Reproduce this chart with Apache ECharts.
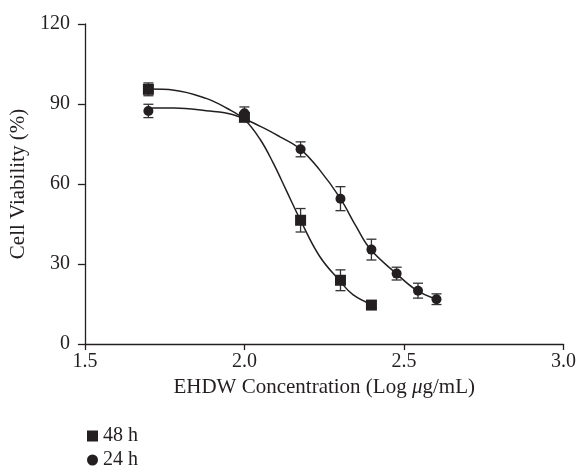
<!DOCTYPE html>
<html>
<head>
<meta charset="utf-8">
<script src="https://cdn.jsdelivr.net/npm/echarts@6/dist/echarts.min.js"></script>
<style>
  html, body { margin: 0; padding: 0; background: #fff; }
  #chart { width: 579px; height: 470px; }
</style>
</head>
<body>
<div id="chart"></div>
<script>
// 浓度 (log µg/mL)
const logConc48 = [1.699, 2.0, 2.176, 2.301, 2.398]
const logConc24 = [1.699, 2.0, 2.176, 2.301, 2.398, 2.477, 2.544, 2.602]

// 细胞活力均值 和 误差
const viability48 = [95.5, 85.0, 46.4, 23.9, 14.6]
const error48 = [2.4, 1.5, 4.4, 3.9, 1.0]
const viability24 = [87.4, 86.5, 73.0, 54.5, 35.4, 26.4, 20.0, 16.8]
const error24 = [2.5, 2.4, 2.8, 4.5, 3.9, 2.4, 2.8, 2.0]

// 拟合曲线
const fitX48 = [1.70, 1.78, 1.88, 1.945, 2.0, 2.05, 2.09, 2.13, 2.175, 2.235, 2.30, 2.34, 2.40]
const fitY48 = [95.6, 95.2, 92.1, 88.4, 84.2, 76.6, 67.9, 57.9, 46.6, 33.0, 23.5, 18.5, 14.7]
const fitX24 = [1.70, 1.78, 1.88, 1.965, 2.05, 2.11, 2.175, 2.235, 2.30, 2.35, 2.395, 2.475, 2.54, 2.60]
const fitY24 = [88.5, 88.5, 87.5, 86.0, 81.6, 77.8, 73.1, 65.4, 54.7, 44.1, 35.5, 26.5, 20.1, 16.9]

// 坐标轴刻度
const xTicks = { min: 1.5, max: 3.0, interval: 0.5 }
const yTicks = { min: 0, max: 120, interval: 30 }

const ink = '#231f20'
const font = 'Liberation Serif'

const zip = (xs, ys) => xs.map((x, i) => [x, ys[i]])
const zip3 = (xs, ys, es) => xs.map((x, i) => [x, ys[i], es[i]])

// 误差线
function errorBar(params, api) {
  const x = api.value(0)
  const y = api.value(1)
  const e = api.value(2)
  const top = api.coord([x, y + e])
  const bot = api.coord([x, y - e])
  const half = 5
  const style = { stroke: '#333', lineWidth: 1.3 }
  return {
    type: 'group',
    children: [
      { type: 'line', shape: { x1: top[0], y1: top[1], x2: bot[0], y2: bot[1] }, style },
      { type: 'line', shape: { x1: top[0] - half, y1: top[1], x2: top[0] + half, y2: top[1] }, style },
      { type: 'line', shape: { x1: bot[0] - half, y1: bot[1], x2: bot[0] + half, y2: bot[1] }, style },
    ],
  }
}

const chart = echarts.init(document.getElementById('chart'))

const option = {
  animation: false,
  textStyle: { fontFamily: font, color: ink },
  grid: { left: 84, right: 15, top: 24, bottom: 126 },
  legend: {
    orient: 'vertical',
    left: 82,
    top: 421,
    height: 80,
    itemGap: 4,
    itemWidth: 11,
    itemHeight: 11,
    textStyle: { fontFamily: font, fontSize: 20, color: ink },
    data: [
      { name: '48 h', icon: 'rect' },
      { name: '24 h', icon: 'circle' },
    ],
  },
  xAxis: {
    type: 'value',
    min: xTicks.min,
    max: xTicks.max,
    interval: xTicks.interval,
    name: '{r|EHDW Concentration (Log }{i|μ}{r|g/mL)}',
    nameLocation: 'middle',
    nameGap: 30,
    nameTextStyle: {
      fontFamily: font,
      fontSize: 21,
      color: ink,
      rich: {
        r: { fontFamily: font, fontSize: 21, color: ink },
        i: { fontFamily: font, fontSize: 21, color: ink, fontStyle: 'italic' },
      },
    },
    axisLine: { lineStyle: { color: ink, width: 1.3 } },
    axisTick: { length: 6, lineStyle: { color: ink, width: 1.3 } },
    axisLabel: {
      margin: 8,
      fontFamily: font,
      fontSize: 20,
      color: ink,
      formatter: v => v.toFixed(1),
    },
    splitLine: { show: false },
  },
  yAxis: {
    type: 'value',
    min: yTicks.min,
    max: yTicks.max,
    interval: yTicks.interval,
    name: 'Cell Viability (%)',
    nameLocation: 'middle',
    nameGap: 54,
    nameRotate: 90,
    nameTextStyle: { fontFamily: font, fontSize: 21, color: ink },
    axisLine: { show: true, lineStyle: { color: ink, width: 1.3 } },
    axisTick: { show: true, length: 7, lineStyle: { color: ink, width: 1.3 } },
    axisLabel: { margin: 15, fontFamily: font, fontSize: 20, color: ink },
    splitLine: { show: false },
  },
  series: [
    {
      type: 'line',
      data: zip(fitX48, fitY48),
      smooth: 0.4,
      showSymbol: false,
      lineStyle: { color: ink, width: 1.5 },
      z: 1,
      silent: true,
    },
    {
      type: 'line',
      data: zip(fitX24, fitY24),
      smooth: 0.4,
      showSymbol: false,
      lineStyle: { color: ink, width: 1.5 },
      z: 1,
      silent: true,
    },
    {
      type: 'custom',
      renderItem: errorBar,
      data: zip3(logConc48, viability48, error48),
      z: 2,
    },
    {
      type: 'custom',
      renderItem: errorBar,
      data: zip3(logConc24, viability24, error24),
      z: 2,
    },
    {
      name: '24 h',
      type: 'scatter',
      symbol: 'circle',
      symbolSize: 10,
      data: zip(logConc24, viability24),
      itemStyle: { color: ink, opacity: 1 },
      z: 3,
    },
    {
      name: '48 h',
      type: 'scatter',
      symbol: 'rect',
      symbolSize: 11,
      data: zip(logConc48, viability48),
      itemStyle: { color: ink, opacity: 1 },
      z: 4,
    },
  ],
}

chart.setOption(option)
</script>
</body>
</html>
